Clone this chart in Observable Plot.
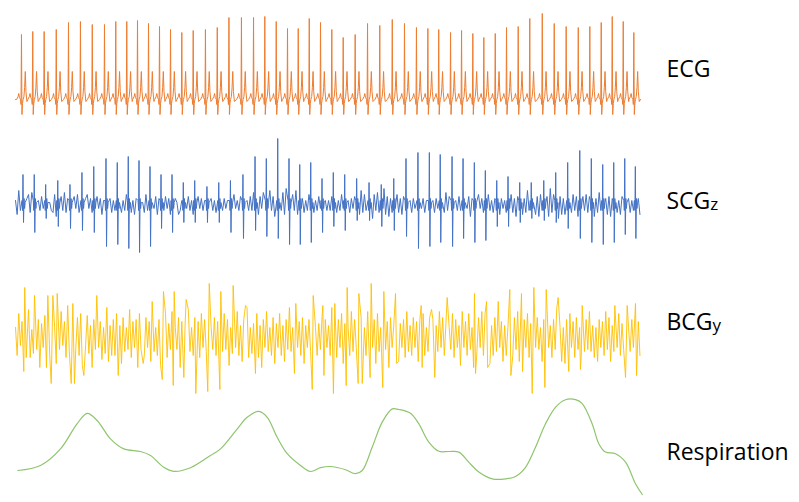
<!DOCTYPE html>
<html><head><meta charset="utf-8">
<script src="https://cdn.jsdelivr.net/npm/d3@7"></script>
<script src="https://cdn.jsdelivr.net/npm/@observablehq/plot@0.6"></script>
<style>body{margin:0;background:#fff;} #chart svg{display:block;}</style>
</head><body><div id="chart"></div>
<script>
// ---- data (time in s; ECG in mV, SCG/BCG/Resp in arbitrary units) ----
const beatTimes = [0.44,1.27,2.11,3.00,3.90,4.78,5.65,6.55,7.38,8.19,8.98,9.79,10.60,11.41,12.24,13.08,13.98,14.85,15.71,
16.63,17.52,18.35,19.19,20.02,20.81,21.62,22.45,23.28,24.12,25.00,25.91,26.81,27.73,28.63,29.51,30.35,31.15,
32.02,32.83,33.66,34.47,35.31,36.14,37.00,37.85,38.77,39.65,40.53,41.42,42.27,43.11,43.92,44.73,45.51];
const ecgR = [0.65,0.68,0.68,0.70,0.77,0.78,0.75,0.75,0.78,0.78,0.79,0.76,0.73,0.70,0.67,0.69,0.70,0.72,0.82,
0.82,0.82,0.83,0.78,0.71,0.71,0.81,0.77,0.70,0.62,0.65,0.76,0.74,0.80,0.76,0.72,0.71,0.70,
0.67,0.69,0.66,0.62,0.66,0.72,0.73,0.81,0.86,0.76,0.73,0.72,0.73,0.77,0.83,0.78,0.67];
// one heartbeat of the ECG: offset from R (s) and value (null = the beat's R height)
const ecgBeatOffset = [-0.36,-0.25,-0.20,-0.15,-0.07,-0.035,0,0.035,0.075,0.12,0.18,0.23,0.28,0.33,0.40];
const ecgBeatValue  = [0,0.03,0.06,0.02,0,-0.05,null,-0.15,-0.04,0.0,0.03,0.12,0.28,0.08,-0.02];

const scgUp = [15,15,10,12,10,16,19,23,21,24,22,19,15,15,11,12,9,11,12,
15,24,23,33,23,20,21,13,16,15,13,11,10,13,23,26,26,25,
24,23,21,17,12,14,11,11,12,16,21,27,23,20,21,23,19];
const scgDown = [9,14,7,11,12,13,14,21,20,22,24,21,12,14,9,9,9,9,14,
17,13,16,17,20,20,19,14,11,13,8,8,11,13,16,22,21,19,
21,17,19,18,11,11,9,7,8,9,12,17,19,20,19,15,17];
// SCG complex around each beat: offset (s), kind ("U" up peak, "D" down peak, "n" fixed value)
const scgBeatOffset = [0.04,0.08,0.11,0.15,0.19,0.23,0.27];
const scgBeatKind   = ["n","n","U","D","n","n","n"];
const scgBeatValue  = [2,-3,0,0,3,-2,1];

const sampleStep = 0.12;
const scgNoise = [
2,-5,7,-3,4,-1,-6,3,5,-4,6,-7,3,-5,2,-3,
4,-2,3,-5,6,1,-3,-4,5,-6,3,-2,4,-3,6,-4,
3,-5,2,-3,4,-2,5,-4,3,-6,-2,3,5,-2,3,-4,
2,-3,4,-2,3,-5,2,0,4,-2,3,-4,2,-3,5,-2,
3,-4,2,-3,5,-2,3,-4,2,-5,3,-2,4,-3,1,-4,
5,-3,2,-4,3,-2,4,-5,3,-2,2,-3,4,-2,3,-5,
2,-4,3,1,-5,-3,2,-4,3,-2,4,-3,2,-5,3,-2,
4,-2,3,-3,2,-4,5,-2,3,-3,2,-4,3,-2,4,-3,
3,-2,2,-4,3,-3,5,-2,2,-3,4,-2,3,-4,2,-3,
4,-3,6,-4,3,-5,4,-2,6,-4,3,-5,7,-3,4,-6,
5,-7,4,-3,6,-5,8,-4,3,-6,5,-3,7,-5,4,-3,
3,-4,2,-3,5,-2,3,-4,2,-3,4,-2,3,-5,2,-3,
2,-3,4,-2,3,-4,2,-3,5,-2,3,-3,2,-4,3,-2,
4,-6,3,-5,7,-4,5,-3,6,-5,4,-7,5,-3,6,-4,
5,-3,8,-5,4,-6,3,-4,6,-3,5,-4,3,-5,4,-3,
3,-5,2,-4,3,-2,4,-3,5,-2,3,-4,2,-3,4,-5,
2,-4,3,-2,5,-3,2,-4,6,-3,4,-2,3,-5,2,-3,
4,-3,2,-5,3,-2,4,-6,3,-4,2,-3,5,-2,3,-4,
3,-2,5,-3,2,-4,3,-2,4,-5,3,-2,2,-4,6,-3,
5,-4,3,-6,4,-3,6,-5,3,-4,7,-3,4,-6,3,-5,
4,-6,5,-3,7,-5,4,-6,8,-4,5,-3,6,-7,4,-5,
3,-5,4,-3,6,-4,5,-3,4,-6,3,-5,4,-3,5,-4,
4,-3,5,-6,3,-4,6,-3,5,-4,3,-5,4,-6,3,-4,
3,-4,2,-5,4,-3,5,-2,3,-4,2,-3,4,-2,3,-5];

const bcgCore = [
5,-9,12,-4,8,-13,6,-5,14,-10,4,-8,15,-6,9,-12,
7,-5,11,-15,6,-9,12,-7,5,-13,9,-6,13,-4,8,-10,
16,-7,5,-12,9,-5,10,-9,12,-14,7,-4,11,-8,6,-15,
9,-6,13,-5,8,-11,5,-8,15,-12,6,-9,9,-9,12,-5,
6,-13,10,-7,5,-6,14,-10,8,-5,9,-15,12,-6,7,-9,
10,-5,8,-12,15,-7,5,-9,9,-14,6,-5,12,-10,7,-6,
13,-9,5,-6,10,-15,8,-5,6,-12,14,-7,5,-9,10,-6,
8,-10,12,-5,9,-7,15,-13,5,-6,10,-9,8,-12,6,-7,
12,-6,9,-14,5,-8,10,-5,13,-9,6,-12,9,-5,15,-10,
5,-8,7,-6,12,-10,6,-15,9,-5,13,-7,5,-9,10,-13,
7,-5,12,-9,6,-12,9,-6,15,-7,5,-10,12,-5,8,-9,
10,-13,6,-5,9,-7,13,-12,5,-9,7,-6,10,-15,9,-5,
6,-9,15,-7,5,-10,9,-5,12,-13,7,-6,5,-9,13,-7,
9,-5,8,-12,10,-6,5,-9,13,-10,6,-5,9,-13,12,-7,
5,-10,12,-6,8,-15,10,-5,6,-9,15,-12,7,-5,9,-10,
13,-7,6,-9,10,-5,8,-12,9,-6,12,-9,5,-7,10,-5,
9,-12,6,-7,13,-5,10,-9,7,-13,5,-6,12,-10,9,-5,
6,-10,13,-5,8,-9,12,-6,5,-15,9,-7,10,-5,13,-9,
12,-5,7,-13,6,-9,10,-7,15,-5,8,-12,6,-9,5,-10,
7,-9,10,-6,13,-12,5,-7,9,-5,12,-10,7,-13,6,-5,
10,-6,5,-12,9,-7,13,-5,6,-10,9,-6,15,-7,5,-12,
5,-13,9,-7,12,-5,8,-10,10,-6,5,-9,12,-7,9,-6,
13,-7,6,-10,5,-12,9,-5,8,-9,13,-6,10,-12,6,-7,
9,-5,12,-9,7,-6,10,-13,5,-7,9,-5,12,-6,8,-9];
const bcgSpikeT = [0.61,0.68,0.79,1.40,1.79,2.38,2.63,2.75,3.07,4.10,4.22,4.34,5.03,5.98,7.56,9.40,10.06,10.80,10.89,
11.61,11.68,12.39,12.56,13.27,14.15,14.26,15.04,15.11,16.02,16.93,17.66,20.53,20.63,21.84,21.91,22.62,22.70,
23.40,23.50,24.34,24.41,25.22,25.27,25.52,26.10,26.18,27.03,27.11,27.97,28.05,29.86,29.93,30.62,30.86,31.77,
32.75,33.78,33.86,34.67,34.75,35.53,36.38,36.46,37.24,37.32,38.03,38.15,38.96,39.06,39.94,40.72,41.58,41.71,
44.11,44.90,45.02,45.63,45.71];
const bcgSpikeV = [-17,25,-10,21,-15,21,-23,21,22,-23,17,-23,-19,21,-19,-13,18,-21,23,
-24,23,-20,19,-28,-27,27,-26,23,26,16,-18,-18,17,-26,21,16,-19,
-28,17,-24,25,-23,22,-23,-20,27,-25,23,22,-13,16,-15,14,-20,20,
-14,22,-18,18,-15,18,24,-19,22,-17,-28,25,-25,24,20,-17,-16,16,
16,-20,16,17,-19];

const respT = [0.17,1.84,3.31,4.54,5.28,6.01,6.99,7.97,9.20,9.94,10.91,11.65,12.88,14.35,15.09,16.32,17.05,17.91,18.53,
19.26,20.0,20.98,21.71,22.45,23.18,24.29,25.02,25.52,26.25,26.99,27.73,28.21,29.07,29.68,30.42,31.16,31.89,
32.63,33.36,34.10,35.09,36.06,36.80,37.54,38.27,39.01,39.74,40.48,41.22,41.71,42.44,42.93,43.42,44.16,44.90,45.63,46.13];
const respV = [0.25,0.375,0.79,1.42,1.68,1.5,1.04,0.79,0.725,0.625,0.33,0.23,0.32,0.625,0.79,1.29,1.58,1.73,1.58,
1.08,0.67,0.375,0.225,0.32,0.35,0.27,0.17,0.25,0.83,1.46,1.79,1.775,1.68,1.42,0.96,0.73,0.725,
0.71,0.46,0.21,0.04,0.04,0.1,0.33,0.83,1.42,1.83,2.02,2.02,1.92,1.42,0.92,0.71,0.67,0.46,-0.08,-0.35];

const labelMain = ["ECG","SCG","BCG","Respiration"];
const labelSub  = ["","z","y",""];
const colors = ["#ED7D31","#4472C4","#FFC000","#8EC56E"];

// ---- build series ----
const tEnd = 46;
const ecg = [{t:0,v:0}];
beatTimes.forEach((b,i)=>ecgBeatOffset.forEach((o,j)=>ecg.push({t:b+o, v: ecgBeatValue[j]===null ? ecgR[i] : ecgBeatValue[j]})));
ecg.push({t:tEnd, v:0});

const scg = [];
scgNoise.forEach((v,i)=>{const t=i*sampleStep; if(!beatTimes.some(b=>t>b && t<b+0.31)) scg.push({t,v});});
beatTimes.forEach((b,i)=>scgBeatOffset.forEach((o,j)=>{
  const k=scgBeatKind[j];
  scg.push({t:b+o, v: k==="U" ? scgUp[i] : k==="D" ? -scgDown[i] : scgBeatValue[j]});
}));
scg.sort((a,b)=>a.t-b.t);

const bcg = [];
bcgCore.forEach((v,i)=>{const t=i*sampleStep; if(!bcgSpikeT.some(s=>Math.abs(s-t)<0.06)) bcg.push({t,v});});
bcgSpikeT.forEach((t,i)=>bcg.push({t, v:bcgSpikeV[i]}));
bcg.sort((a,b)=>a.t-b.t);

const resp = respT.map((t,i)=>({t, v:respV[i]}));

// ---- draw ----
const chart = document.getElementById("chart");
const panels = [
  {data:ecg,  height:130, domain:[-0.31,0.99], curve:"linear", labelY:69, sw:1},
  {data:scg,  height:130, domain:[-28,37],     curve:"linear", labelY:71, sw:1},
  {data:bcg,  height:135, domain:[-29,38.5],   curve:"linear", labelY:62, sw:0.9},
  {data:resp, height:107, domain:[-0.55,2.125],curve:"catmull-rom", labelY:57, sw:1.2}
];
panels.forEach((p,i)=>{
  const svg = Plot.plot({
    width:799, height:p.height,
    marginLeft:15, marginRight:159, marginTop:0, marginBottom:0,
    x:{domain:[0,tEnd], axis:null},
    y:{domain:p.domain, axis:null},
    marks:[
      Plot.line(p.data, {x:"t", y:"v", stroke:colors[i], strokeWidth:p.sw, curve:p.curve}),
      Plot.text([labelMain[i]], {text:d=>d, frameAnchor:"top-right", dx:26, dy:p.labelY,
        textAnchor:"start", lineAnchor:"middle", fontSize:23, fontFamily:"Open Sans", fill:"#000"})
    ]
  });
  if (labelSub[i]) {
    const txt = svg.querySelector('g[aria-label="text"] text');
    const ts = document.createElementNS("http://www.w3.org/2000/svg","tspan");
    ts.setAttribute("font-size","17");
    ts.setAttribute("dy","0.08em");
    ts.textContent = labelSub[i];
    txt.appendChild(ts);
  }
  chart.appendChild(svg);
});
</script>
</body></html>
